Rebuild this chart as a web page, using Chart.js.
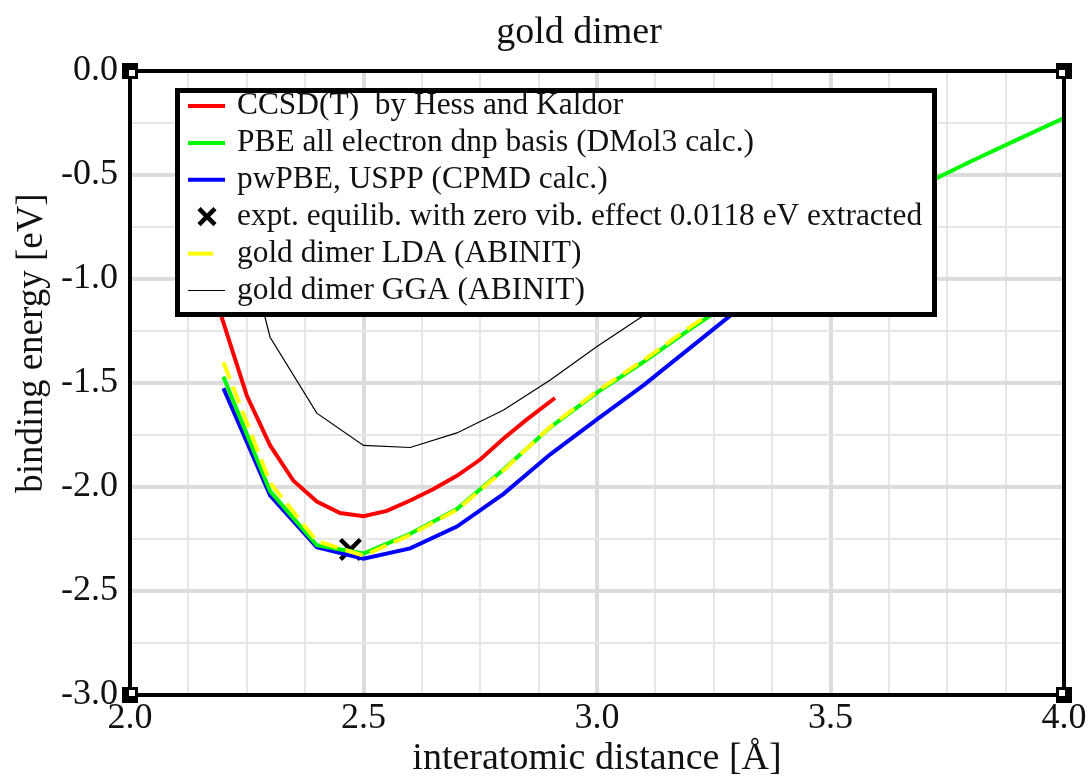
<!DOCTYPE html>
<html>
<head>
<meta charset="utf-8">
<script src="https://cdn.jsdelivr.net/npm/chart.js@4.4.1/dist/chart.umd.min.js"></script>
<style>
  html, body { margin: 0; padding: 0; background: #fff; }
  #wrap { width: 1090px; height: 778px; }
</style>
</head>
<body>
<div id="wrap"><canvas id="c" width="1090" height="778"></canvas></div>
<script>
// Au2 binding energy curves, distance in Angstrom, energy in eV
const ccsdDist   = [2.18, 2.20, 2.25, 2.30, 2.35, 2.40, 2.45, 2.50, 2.55, 2.60, 2.65, 2.70, 2.75, 2.80, 2.85, 2.91];
const ccsdEnergy = [-1.07, -1.21, -1.56, -1.80, -1.97, -2.07, -2.125, -2.14, -2.115, -2.065, -2.01, -1.946, -1.868, -1.767, -1.675, -1.572];

const pbeDist   = [2.2, 2.3, 2.4, 2.5, 2.6, 2.7, 2.8, 2.9, 3.0, 3.1, 3.2, 3.3, 3.4, 3.5, 3.6, 3.7, 3.8, 3.9, 4.0];
const pbeEnergy = [-1.47, -2.02, -2.28, -2.32, -2.225, -2.106, -1.916, -1.713, -1.546, -1.398, -1.24, -1.09, -0.95, -0.81, -0.68, -0.545, -0.435, -0.33, -0.226];

const pwDist   = [2.2, 2.3, 2.4, 2.5, 2.6, 2.7, 2.8, 2.9, 3.0, 3.1, 3.2, 3.3, 3.4, 3.5, 3.6];
const pwEnergy = [-1.525, -2.04, -2.29, -2.345, -2.295, -2.19, -2.033, -1.843, -1.675, -1.51, -1.33, -1.15, -1.00, -0.86, -0.73];

const exptDist   = [2.472];
const exptEnergy = [-2.30];

const ldaDist   = [2.2, 2.3, 2.4, 2.5, 2.6, 2.7, 2.8, 2.9, 3.0, 3.1, 3.2, 3.3, 3.4, 3.5];
const ldaEnergy = [-1.40, -1.98, -2.26, -2.33, -2.23, -2.11, -1.92, -1.71, -1.54, -1.39, -1.23, -1.08, -0.94, -0.80];

const ggaDist   = [2.2, 2.3, 2.4, 2.5, 2.6, 2.7, 2.8, 2.9, 3.0, 3.1, 3.2, 3.3, 3.4, 3.5];
const ggaEnergy = [-0.40, -1.28, -1.645, -1.80, -1.81, -1.74, -1.63, -1.485, -1.325, -1.175, -1.03, -0.90, -0.79, -0.69];

const xTicks = [2.0, 2.5, 3.0, 3.5, 4.0];
const yTicks = [0.0, -0.5, -1.0, -1.5, -2.0, -2.5, -3.0];

const SERIF = "'Liberation Serif', 'Times New Roman', serif";
Chart.defaults.font.family = SERIF;

const pts = (xs, ys) => xs.map((x, i) => ({ x: x, y: ys[i] }));
const isMajor = (v, list) => list.some(t => Math.abs(t - v) < 1e-6);

const gridColor = ctx => isMajor(ctx.tick.value, ctx.scale.axis === 'x' ? xTicks : yTicks) ? '#dcdcdc' : '#e6e6e6';
const gridWidth = ctx => isMajor(ctx.tick.value, ctx.scale.axis === 'x' ? xTicks : yTicks) ? 4 : 2;

// frame, corner marks, boxed legend and the text around the plot
const decorations = {
    id: 'decorations',
    afterDraw(chart) {
        const { ctx, chartArea: a } = chart;
        ctx.save();

        ctx.strokeStyle = '#000';
        ctx.lineWidth = 4;
        ctx.strokeRect(a.left, a.top, a.right - a.left, a.bottom - a.top);

        const corners = [
            [a.left, a.top, 1, 1], [a.right, a.top, -1, 1],
            [a.left, a.bottom, 1, -1], [a.right, a.bottom, -1, -1]
        ];
        corners.forEach(([cx, cy, dx, dy]) => {
            ctx.fillStyle = '#000';
            ctx.fillRect(cx - 8, cy - 8, 16, 16);
            ctx.fillStyle = '#fff';
            ctx.fillRect(dx > 0 ? cx - 1 : cx - 5, dy > 0 ? cy - 1 : cy - 5, 6, 6);
        });

        // legend box
        const bx = 177.5, by = 90.5, bw = 757, bh = 224;
        ctx.fillStyle = '#fff';
        ctx.fillRect(bx, by, bw, bh);
        ctx.lineWidth = 5;
        ctx.strokeStyle = '#000';
        ctx.strokeRect(bx, by, bw, bh);

        ctx.font = '31.4px ' + SERIF;
        ctx.textAlign = 'left';
        ctx.textBaseline = 'middle';
        chart.data.datasets.forEach((ds, i) => {
            const y = 106 + i * 36.9;
            ctx.save();
            if (ds.showLine === false) {
                const r = 8;
                ctx.strokeStyle = ds.borderColor;
                ctx.lineWidth = 4.5;
                ctx.beginPath();
                ctx.moveTo(207 - r, y - r); ctx.lineTo(207 + r, y + r);
                ctx.moveTo(207 + r, y - r); ctx.lineTo(207 - r, y + r);
                ctx.stroke();
            } else {
                ctx.strokeStyle = ds.borderColor;
                ctx.lineWidth = ds.borderWidth;
                ctx.beginPath();
                ctx.moveTo(188, y);
                ctx.lineTo(ds.borderDash ? 213 : 225, y);
                ctx.stroke();
            }
            ctx.restore();
            ctx.fillStyle = '#111';
            ctx.fillText(ds.label, 237, y);
        });

        ctx.fillStyle = '#111';
        ctx.textAlign = 'center';
        ctx.textBaseline = 'middle';
        ctx.font = '38px ' + SERIF;
        ctx.fillText('gold dimer', 579, 33);
        ctx.fillText('interatomic distance [Å]', (a.left + a.right) / 2, 759);
        ctx.font = '37px ' + SERIF;
        ctx.translate(32, 343);
        ctx.rotate(-Math.PI / 2);
        ctx.fillText('binding energy [eV]', 0, 0);
        ctx.restore();
    }
};

new Chart(document.getElementById('c'), {
    type: 'line',
    data: {
        datasets: [
            { label: 'CCSD(T)  by Hess and Kaldor', data: pts(ccsdDist, ccsdEnergy),
              borderColor: '#ff0000', borderWidth: 4, order: 1 },
            { label: 'PBE all electron dnp basis (DMol3 calc.)', data: pts(pbeDist, pbeEnergy),
              borderColor: '#00f800', borderWidth: 4, order: 2 },
            { label: 'pwPBE, USPP (CPMD calc.)', data: pts(pwDist, pwEnergy),
              borderColor: '#0000ff', borderWidth: 4, order: 3 },
            { label: 'expt. equilib. with zero vib. effect 0.0118 eV extracted', data: pts(exptDist, exptEnergy),
              borderColor: '#000', showLine: false, pointStyle: 'crossRot', pointRadius: 14,
              pointBorderWidth: 4.5, pointBorderColor: '#000', order: 5 },
            { label: 'gold dimer LDA (ABINIT)', data: pts(ldaDist, ldaEnergy),
              borderColor: '#ffff00', borderWidth: 4, borderDash: [18, 8], order: 0 },
            { label: 'gold dimer GGA (ABINIT)', data: pts(ggaDist, ggaEnergy),
              borderColor: '#000', borderWidth: 1.2, order: 4 }
        ]
    },
    options: {
        responsive: false,
        animation: false,
        devicePixelRatio: 1,
        elements: { point: { radius: 0 }, line: { tension: 0, fill: false } },
        layout: { padding: { top: 71, right: 26, left: 0, bottom: 0 } },
        plugins: { legend: { display: false }, title: { display: false }, tooltip: { enabled: false } },
        scales: {
            x: {
                type: 'linear', min: 2, max: 4,
                border: { display: false },
                grid: { color: gridColor, lineWidth: gridWidth, drawTicks: false },
                ticks: {
                    stepSize: 0.125, autoSkip: false, maxRotation: 0, padding: 2,
                    color: '#111', font: { size: 36 },
                    callback: v => isMajor(v, xTicks) ? v.toFixed(1) : ''
                },
                afterFit: s => { s.height = 83; }
            },
            y: {
                type: 'linear', min: -3, max: 0,
                border: { display: false },
                grid: { color: gridColor, lineWidth: gridWidth, drawTicks: false },
                ticks: {
                    stepSize: 0.25, autoSkip: false, padding: 12,
                    color: '#111', font: { size: 36 },
                    callback: v => isMajor(v, yTicks) ? v.toFixed(1) : ''
                },
                afterFit: s => { s.width = 130; }
            }
        }
    },
    plugins: [decorations]
});
</script>
</body>
</html>
